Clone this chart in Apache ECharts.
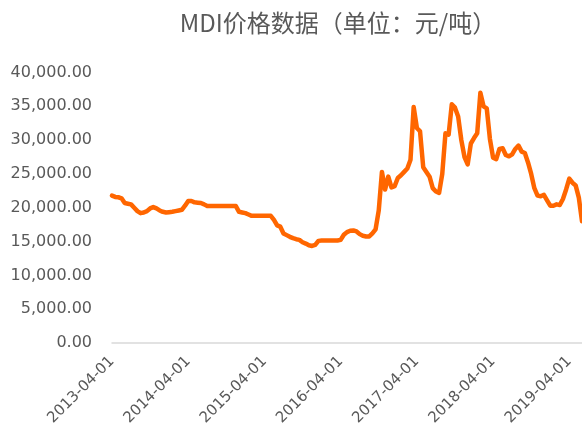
<!DOCTYPE html>
<html>
<head>
<meta charset="utf-8">
<script src="https://cdn.jsdelivr.net/npm/echarts@6/dist/echarts.min.js"></script>
<style>
  html, body { margin: 0; padding: 0; background: #ffffff; }
  #chart { width: 582px; height: 439px; }
</style>
</head>
<body>
<div id="chart"></div>
<script>
// Half-monthly price series, 2013-04-01 .. 2019-06-01 (yuan per tonne)
const startYear = 2013, startMonth = 4, pointCount = 149;
const prices = [
  21800, 21600, 21550, 21400, 20700, 20600, 20500, 20000, 19500, 19200,
  19300, 19500, 19900, 20100, 19900, 19600, 19400, 19300, 19350, 19400,
  19500, 19600, 19700, 20300, 21000, 21000, 20800, 20750, 20700, 20500,
  20250, 20250, 20250, 20250, 20250, 20250, 20250, 20250, 20250, 20250,
  19400, 19300, 19200, 19000, 18800, 18800, 18800, 18800, 18800, 18800,
  18800, 18200, 17400, 17200, 16200, 15950, 15700, 15500, 15350, 15250,
  14900, 14700, 14450, 14350, 14500, 15100, 15150, 15150, 15150, 15150,
  15150, 15150, 15250, 16000, 16400, 16600, 16650, 16500, 16100, 15850,
  15750, 15750, 16200, 16800, 19600, 25300, 22700, 24600, 23000, 23200,
  24400, 24800, 25300, 25800, 27100, 34900, 31800, 31300, 26000, 25300,
  24600, 22900, 22400, 22200, 25000, 31000, 30800, 35300, 34800, 33500,
  30000, 27500, 26400, 29500, 30300, 31000, 37000, 35000, 34700, 30200,
  27400, 27200, 28700, 28800, 27800, 27600, 27900, 28700, 29200, 28300,
  28100, 26700, 25000, 22900, 21800, 21700, 21900, 21100, 20300, 20300,
  20500, 20400, 21300, 22700, 24300, 23700, 23300, 21500, 18000
];
const yTicks = [0, 5000, 10000, 15000, 20000, 25000, 30000, 35000, 40000];
const titleText = 'MDI价格数据（单位：元/吨）';

// Category labels: the 1st and 16th of every month
const pad = n => (n < 10 ? '0' : '') + n;
const dates = [];
for (let i = 0; i < pointCount; i++) {
  const m0 = startMonth - 1 + Math.floor(i / 2);
  const y = startYear + Math.floor(m0 / 12);
  const m = (m0 % 12) + 1;
  dates.push(y + '-' + pad(m) + '-' + (i % 2 === 0 ? '01' : '16'));
}

const fmt = v => {
  const s = Math.round(v).toString().replace(/\B(?=(\d{3})+(?!\d))/g, ',');
  return s + '.00';
};

const chart = echarts.init(document.getElementById('chart'), null, { renderer: 'canvas' });
chart.setOption({
  animation: false,
  backgroundColor: '#ffffff',
  title: {
    text: titleText,
    left: 333,
    top: 6,
    textAlign: 'center',
    textStyle: {
      fontFamily: '"Noto Sans CJK SC", "Noto Sans", sans-serif',
      fontSize: 24,
      fontWeight: 'normal',
      color: '#595959'
    }
  },
  grid: { left: 112, right: 0, top: 72.5, bottom: 96, containLabel: false },
  xAxis: {
    type: 'category',
    data: dates,
    boundaryGap: false,
    axisLine: { show: true, lineStyle: { color: '#d9d9d9', width: 1.5 } },
    axisTick: { show: false },
    splitLine: { show: false },
    axisLabel: {
      interval: (idx, val) => val.endsWith('-04-01'),
      rotate: 45,
      margin: 16,
      color: '#595959',
      fontFamily: '"DejaVu Sans", sans-serif',
      fontSize: 15
    }
  },
  yAxis: {
    type: 'value',
    min: yTicks[0],
    max: yTicks[yTicks.length - 1],
    interval: yTicks[1] - yTicks[0],
    axisLine: { show: false },
    axisTick: { show: false },
    splitLine: { show: false },
    axisLabel: {
      margin: 20,
      color: '#595959',
      fontFamily: '"DejaVu Sans", sans-serif',
      fontSize: 16,
      formatter: fmt
    }
  },
  series: [{
    type: 'line',
    data: prices,
    symbol: 'none',
    smooth: false,
    lineStyle: { color: '#ff6600', width: 4.5, join: 'round', cap: 'round' }
  }]
});
</script>
</body>
</html>
